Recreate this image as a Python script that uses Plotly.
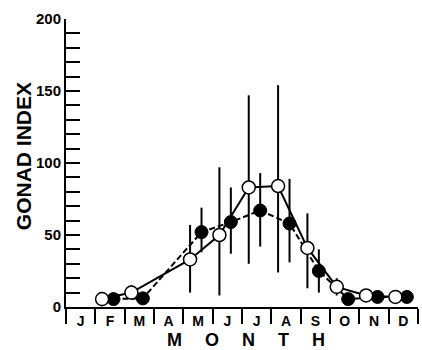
import plotly.graph_objects as go

# Month labels
month_labels = ["J", "F", "M", "A", "M", "J", "J", "A", "S", "O", "N", "D"]

# Open circles (solid line) – month number, mean, error up/down
open_month = [2, 3, 5, 6, 7, 8, 9, 10, 11, 12]
open_vals = [5.5, 10, 33, 50, 83, 84, 41, 14, 8, 7]
open_err_up = [5, 5, 24, 47, 64, 70, 24, 6, 4, 3]
open_err_dn = [5, 5, 23, 42, 53, 60, 28, 6, 4, 3]

# Filled circles (dashed line)
filled_month = [2, 3, 5, 6, 7, 8, 9, 10, 11, 12]
filled_vals = [5.5, 6, 52, 59, 67, 58, 25, 5.5, 7, 7]
filled_err_up = [4, 4, 17, 24, 26, 31, 15, 3, 3, 3]
filled_err_dn = [4, 4, 14, 22, 25, 27, 15, 3, 3, 3]

OPEN_OFF = -0.27
FILLED_OFF = 0.12

fx = [m - 0.5 + FILLED_OFF for m in filled_month]
ox = [m - 0.5 + OPEN_OFF for m in open_month]

fig = go.Figure()

fig.add_trace(go.Scatter(
    x=fx, y=filled_vals, mode="lines+markers",
    line=dict(color="black", width=2, dash="6px,3px"),
    marker=dict(size=13, color="black", line=dict(color="black", width=1)),
    error_y=dict(type="data", symmetric=False, array=filled_err_up,
                 arrayminus=filled_err_dn, width=0, thickness=2, color="black"),
    showlegend=False,
))

fig.add_trace(go.Scatter(
    x=ox, y=open_vals, mode="lines+markers",
    line=dict(color="black", width=2),
    marker=dict(size=13, color="white", line=dict(color="black", width=1.5)),
    error_y=dict(type="data", symmetric=False, array=open_err_up,
                 arrayminus=open_err_dn, width=0, thickness=2, color="black"),
    showlegend=False,
))

font_family = "Liberation Sans, Arial, sans-serif"

fig.update_layout(
    width=422, height=350, autosize=False,
    margin=dict(l=66, r=4, t=19, b=43),
    paper_bgcolor="white", plot_bgcolor="white",
    font=dict(family=font_family, color="black"),
    xaxis=dict(
        range=[0, 12], showgrid=False, zeroline=False,
        showline=True, linecolor="black", linewidth=2,
        tickmode="array", tickvals=[i + 0.5 for i in range(12)],
        ticktext=month_labels, ticks="",
        tickfont=dict(size=14, family=font_family, weight="bold"),
        minor=dict(tickmode="linear", tick0=0, dtick=1, ticks="outside",
                   ticklen=15, tickwidth=2, tickcolor="black", showgrid=False),
    ),
    yaxis=dict(
        range=[0, 200], showgrid=False, zeroline=False,
        showline=True, linecolor="black", linewidth=2,
        tickmode="linear", tick0=0, dtick=50, ticks="inside",
        ticklen=14, tickwidth=2, tickcolor="black",
        tickfont=dict(size=15, family=font_family, weight="bold"),
        minor=dict(tickmode="linear", tick0=0, dtick=10, ticks="inside",
                   ticklen=14, tickwidth=2, tickcolor="black", showgrid=False),
    ),
    annotations=[
        dict(text="GONAD INDEX", xref="paper", yref="paper",
             x=-0.122, y=0.524, xanchor="center", yanchor="middle",
             textangle=-90, showarrow=False,
             font=dict(size=21, family=font_family, weight="bold")),
        dict(text="M\u2003 O\u2003 N\u2003 T\u2003 H", xref="paper", yref="paper",
             x=0.51, y=-0.074, xanchor="center", yanchor="top",
             showarrow=False,
             font=dict(size=18, family=font_family, weight="bold")),
    ],
)

fig.write_html("out.html", config={"displayModeBar": False},
               post_script="document.body.style.margin='0';document.body.style.padding='0';")
